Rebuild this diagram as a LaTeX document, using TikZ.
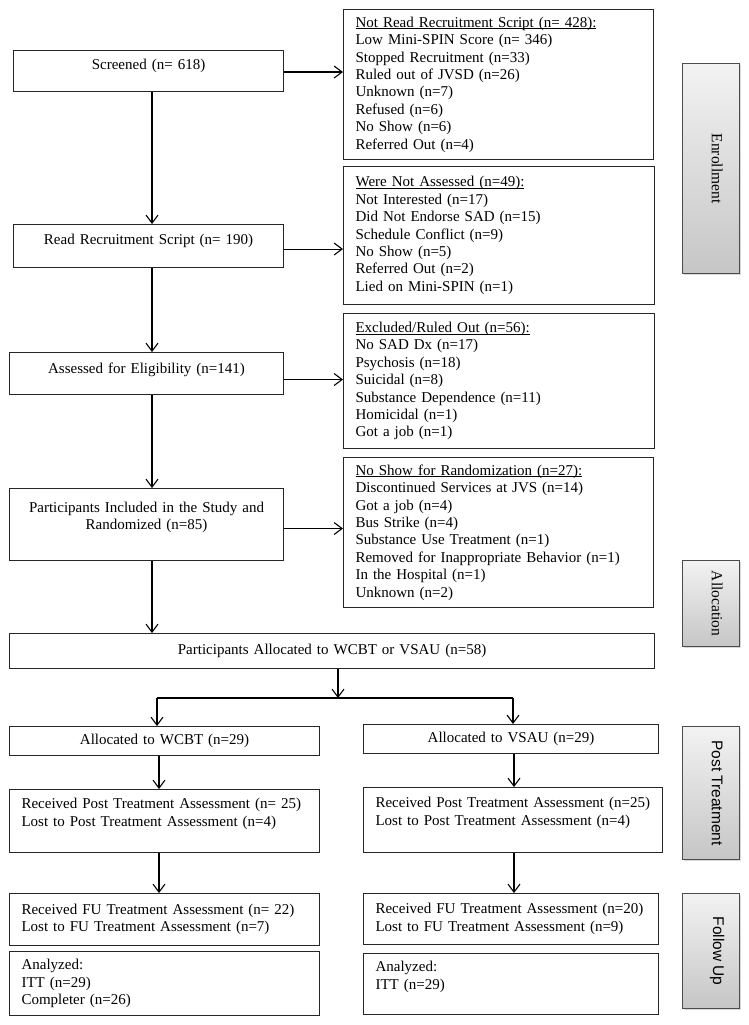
\documentclass[tikz,border=0pt]{standalone}
\usepackage{fontspec}
\setmainfont{Liberation Serif}
\setsansfont{Liberation Sans}
\usetikzlibrary{positioning}
\usetikzlibrary{arrows.meta}
\usetikzlibrary{shadows}

\newlength{\headwd}
\newcommand{\listhead}[1]{\settowidth{\headwd}{#1}\rlap{\rule[-1.8pt]{\headwd}{0.7pt}}#1}

\tikzset{
	box/.style={draw=black!85,line width=1.1pt,rectangle,anchor=north west,inner xsep=12pt,inner ysep=0pt,align=center,font=\fontsize{15}{17.4}\selectfont},
	listbox/.style={box,align=left},
	stagebox/.style={draw=black!70,line width=1.1pt,rectangle,anchor=north west,inner sep=0pt,minimum width=57pt,top color=gray!10,bottom color=gray!45,drop shadow={shadow xshift=1.2pt,shadow yshift=-1.5pt,opacity=0.3},font=\fontsize{15.5}{18}\selectfont},
	arr/.style={-{Straight Barb[length=8pt,width=12pt]},line width=1.1pt},
}

\begin{document}
\begin{tikzpicture}[x=1pt,y=-1pt]
		%Frame
			\useasboundingbox (0,0) rectangle (749,1025);
		%Enrollment
			\node[box,text width=246pt,minimum height=41pt,text depth=14pt] (screened) at (13,50) {Screened (n= 618)};
			\node[listbox,text width=286pt,minimum height=150pt] (notread) at (343,9) {\listhead{Not Read Recruitment Script (n= 428):}\\
				Low Mini-SPIN Score (n= 346)\\
				Stopped Recruitment (n=33)\\
				Ruled out of JVSD (n=26)\\
				Unknown (n=7)\\
				Refused (n=6)\\
				No Show (n=6)\\
				Referred Out (n=4)};
			\node[box,text width=246pt,minimum height=43pt,text depth=14pt] (read) at (13,224) {Read Recruitment Script (n= 190)};
			\node[listbox,text width=287pt,minimum height=138pt] (werenot) at (343,166) {\listhead{Were Not Assessed (n=49):}\\
				Not Interested (n=17)\\
				Did Not Endorse SAD (n=15)\\
				Schedule Conflict (n=9)\\
				No Show (n=5)\\
				Referred Out (n=2)\\
				Lied on Mini-SPIN (n=1)};
			\node[box,text width=250pt,minimum height=42pt,text depth=10pt] (assessed) at (9,352) {Assessed for Eligibility (n=141)};
			\node[listbox,text width=287pt,minimum height=135pt] (excluded) at (343,313) {\listhead{Excluded/Ruled Out (n=56):}\\
				No SAD Dx (n=17)\\
				Psychosis (n=18)\\
				Suicidal (n=8)\\
				Substance Dependence (n=11)\\
				Homicidal (n=1)\\
				Got a job (n=1)};
			\node[box,text width=250pt,minimum height=72pt] (included) at (9,488) {Participants Included in the Study and\\ Randomized (n=85)\\ \mbox{}};
			\node[listbox,text width=286pt,minimum height=150pt] (noshow) at (343,457) {\listhead{No Show for Randomization (n=27):}\\
				Discontinued Services at JVS (n=14)\\
				Got a job (n=4)\\
				Bus Strike (n=4)\\
				Substance Use Treatment (n=1)\\
				Removed for Inappropriate Behavior (n=1)\\
				In the Hospital (n=1)\\
				Unknown (n=2)};
		%Allocation
			\node[box,text width=621pt,minimum height=35pt] (alloc) at (9,633) {Participants Allocated to WCBT or VSAU (n=58)};
			\node[box,text width=286pt,minimum height=29pt] (wcbt) at (9,726) {Allocated to WCBT (n=29)};
			\node[box,text width=271pt,minimum height=29pt] (vsau) at (363,724) {Allocated to VSAU (n=29)};
		%Post treatment
			\node[listbox,text width=286pt,minimum height=63pt] (postw) at (9,789) {Received Post Treatment Assessment (n= 25)\\ Lost to Post Treatment Assessment (n=4)\\ \mbox{}};
			\node[listbox,text width=275pt,minimum height=65pt] (postv) at (363,787) {Received Post Treatment Assessment (n=25)\\ Lost to Post Treatment Assessment (n=4)\\ \mbox{}};
		%Follow up
			\node[listbox,text width=286pt,minimum height=52pt] (fuw) at (9,893) {Received FU Treatment Assessment (n= 22)\\ Lost to FU Treatment Assessment (n=7)};
			\node[listbox,text width=271pt,minimum height=51pt] (fuv) at (363,893) {Received FU Treatment Assessment (n=20)\\ Lost to FU Treatment Assessment (n=9)};
			\node[listbox,text width=286pt,minimum height=64pt] (anaw) at (9,951) {Analyzed:\\ ITT (n=29)\\ Completer (n=26)};
			\node[listbox,text width=271pt,minimum height=61pt] (anav) at (363,953) {Analyzed:\\ ITT (n=29)\\ \mbox{}};
		%Stage labels
			\node[stagebox,minimum height=210pt] (enroll) at (682,63) {\hspace*{12pt}\rotatebox{-90}{Enrollment}};
			\node[stagebox,minimum height=86pt] (allocside) at (682,560) {\hspace*{12pt}\rotatebox{-90}{Allocation}};
			\node[stagebox,minimum height=133pt] (postside) at (682,726) {\hspace*{12pt}\rotatebox{-90}{\sffamily Post Treatment}};
			\node[stagebox,minimum height=115pt] (followside) at (682,893) {\hspace*{12pt}\rotatebox{-90}{\sffamily Follow Up}};
		%Main column
			\coordinate (spine) at (152,0);
			\draw[arr] (screened.south -| spine) -- (read.north -| spine);
			\draw[arr] (read.south -| spine) -- (assessed.north -| spine);
			\draw[arr] (assessed.south -| spine) -- (included.north -| spine);
			\draw[arr] (included.south -| spine) -- (alloc.north -| spine);
		%Exclusions
			\draw[arr] ([yshift=-1pt]screened.east) -- ([yshift=-1pt]screened.east -| notread.west);
			\draw[arr] ([yshift=-3pt]read.east) -- ([yshift=-3pt]read.east -| werenot.west);
			\draw[arr] ([yshift=-6pt]assessed.east) -- ([yshift=-6pt]assessed.east -| excluded.west);
			\draw[arr] ([yshift=-4pt]included.east) -- ([yshift=-4pt]included.east -| noshow.west);
		%Split
			\coordinate (split) at (338,698);
			\coordinate (splitL) at (157,698);
			\coordinate (splitR) at (513,698);
			\draw[arr] (alloc.south -| split) -- (split);
			\draw[line width=1.1pt] (splitL) -- (splitR);
			\draw[arr] (splitL) -- (splitL |- wcbt.north);
			\draw[arr] (splitR) -- (splitR |- vsau.north);
		%Arms
			\coordinate (colL) at (159,0);
			\coordinate (colR) at (514,0);
			\draw[arr] (wcbt.south -| colL) -- (postw.north -| colL);
			\draw[arr] (postw.south -| colL) -- (fuw.north -| colL);
			\draw[arr] (vsau.south -| colR) -- (postv.north -| colR);
			\draw[arr] (postv.south -| colR) -- (fuv.north -| colR);
	\end{tikzpicture}
\end{document}
